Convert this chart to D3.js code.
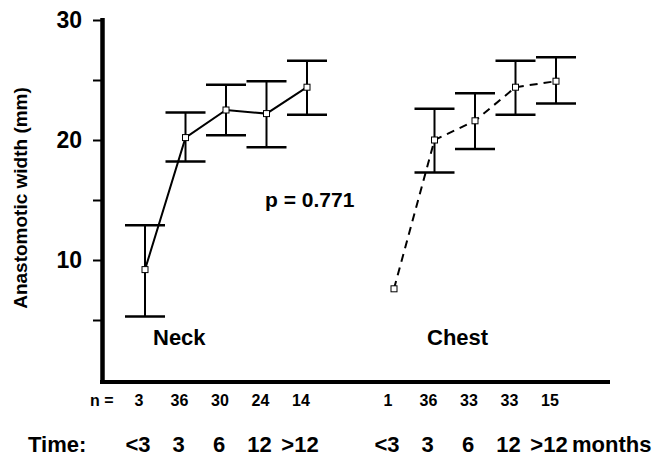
<!DOCTYPE html>
<html><head><meta charset="utf-8">
<script src="https://cdn.jsdelivr.net/npm/d3@7"></script>
<style>
body{margin:0;background:#fff;}
text{font-family:"Liberation Sans",Arial,Helvetica,sans-serif;font-weight:bold;fill:#000;}
</style></head>
<body><svg id="c" width="665" height="456"></svg>
<script>
const timeLabels = ["<3","3","6","12",">12"];
const neckMean  = [9.2, 20.2, 22.5, 22.2, 24.4];
const neckUpper = [12.9, 22.3, 24.6, 24.9, 26.6];
const neckLower = [5.3, 18.2, 20.4, 19.4, 22.1];
const neckN     = ["3","36","30","24","14"];
const chestMean  = [7.6, 20.0, 21.6, 24.4, 24.9];
const chestUpper = [null, 22.6, 23.9, 26.6, 26.9];
const chestLower = [null, 17.3, 19.25, 22.1, 23.05];
const chestN     = ["1","36","33","33","15"];
const yTicks = [5,10,15,20,25,30];
const yLabelTicks = [10,20,30];

const svg = d3.select("#c");
const y = d3.scaleLinear().domain([0,30]).range([380,20]);
const xi = d3.scaleLinear().domain([0,4]).range([0,162]);
const groupX = d3.scaleOrdinal().domain(["Neck","Chest"]).range([145,394]);

// y axis
const yAxis = d3.axisLeft(y).tickValues(yTicks)
  .tickFormat(d => yLabelTicks.includes(d) ? d : "")
  .tickSize(8).tickSizeOuter(0).tickPadding(11);
const ga = svg.append("g").attr("transform","translate(101,0)").call(yAxis);
ga.select(".domain").remove();
ga.selectAll(".tick line").attr("stroke","#000").attr("stroke-width",2);
ga.selectAll(".tick text").style("font-size","23px").style("font-weight","bold")
  .style("font-family","'Liberation Sans',Arial,sans-serif");
svg.append("line").attr("x1",102.5).attr("x2",102.5).attr("y1",y(30)-2).attr("y2",y(0)+4)
  .attr("stroke","#000").attr("stroke-width",4.5);
svg.append("line").attr("x1",100).attr("x2",610).attr("y1",y(0)+2).attr("y2",y(0)+2)
  .attr("stroke","#000").attr("stroke-width",4);

function drawSeries(name, mean, upper, lower, dashed){
  const g = svg.append("g");
  const px = i => groupX(name) + xi(i);
  mean.forEach((m,i)=>{
    if(upper[i]==null) return;
    g.append("line").attr("x1",px(i)).attr("x2",px(i)).attr("y1",y(upper[i])).attr("y2",y(lower[i]))
      .attr("stroke","#000").attr("stroke-width",2);
    [upper[i],lower[i]].forEach(v=>{
      g.append("line").attr("x1",px(i)-20).attr("x2",px(i)+20).attr("y1",y(v)).attr("y2",y(v))
        .attr("stroke","#000").attr("stroke-width",2.5);
    });
  });
  const line = d3.line().x((d,i)=>px(i)).y(d=>y(d));
  g.append("path").attr("d",line(mean)).attr("fill","none").attr("stroke","#000")
    .attr("stroke-width",2).attr("stroke-dasharray",dashed?"8,6":null);
  g.selectAll("rect").data(mean).join("rect")
    .attr("x",(d,i)=>px(i)-3).attr("y",d=>y(d)-3).attr("width",6).attr("height",6)
    .attr("fill","#fff").attr("stroke","#000").attr("stroke-width",1);
}
drawSeries("Neck", neckMean, neckUpper, neckLower, false);
drawSeries("Chest", chestMean, chestUpper, chestLower, true);

// n labels and time labels
svg.append("text").attr("x",90).attr("y",406).style("font-size","16px").text("n =");
[["Neck",neckN],["Chest",chestN]].forEach(([name,ns])=>{
  ns.forEach((n,i)=>{
    svg.append("text").attr("x",groupX(name)+xi(i)-6).attr("y",406).attr("text-anchor","middle")
      .style("font-size","16px").text(n);
    svg.append("text").attr("x",groupX(name)+xi(i)-7).attr("y",452).attr("text-anchor","middle")
      .style("font-size","22px").text(timeLabels[i]);
  });
});
svg.append("text").attr("x",28).attr("y",452).style("font-size","22px").text("Time:");
svg.append("text").attr("x",572).attr("y",452).style("font-size","22px").text("months");

svg.append("text").attr("x",153).attr("y",345).style("font-size","22px").text("Neck");
svg.append("text").attr("x",427).attr("y",345).style("font-size","22px").text("Chest");
svg.append("text").attr("x",265).attr("y",207).style("font-size","21px").text("p = 0.771");

svg.append("text").attr("transform","translate(27,198) rotate(-90)").attr("text-anchor","middle")
  .style("font-size","19px").text("Anastomotic width (mm)");
</script></body></html>
